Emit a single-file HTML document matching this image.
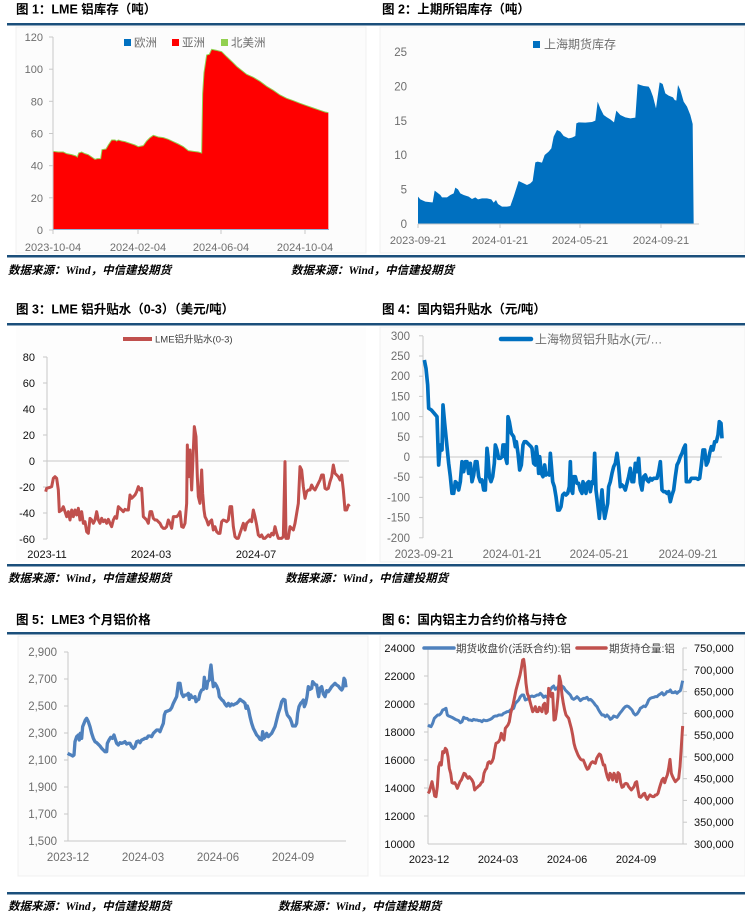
<!DOCTYPE html>
<html><head><meta charset="utf-8"><style>
html,body{margin:0;padding:0;background:#fff;}
body{width:745px;height:922px;overflow:hidden;}
svg{display:block;}
.t{font-family:"Liberation Sans","Noto Sans CJK SC",sans-serif;font-weight:bold;font-size:12.5px;fill:#000;}
.s{font-family:"Liberation Serif","Noto Sans CJK SC",serif;font-weight:bold;font-style:italic;font-size:11.5px;fill:#000;}
.g{font-family:"Liberation Sans","Noto Sans CJK SC",sans-serif;font-size:11px;fill:#6e6e6e;}
.k{font-family:"Liberation Sans","Noto Sans CJK SC",sans-serif;font-size:11px;fill:#111;}
.ax{stroke:#c8c8c8;stroke-width:1;fill:none;}
</style></head><body>
<svg width="745" height="922" viewBox="0 0 745 922" xmlns="http://www.w3.org/2000/svg">
<rect x="0" y="0" width="745" height="922" fill="#fff"/>
<!-- chart area backgrounds -->
<rect x="16" y="27" width="350" height="226" fill="#fcfcfc" stroke="#f0f0f0"/>
<rect x="380" y="27" width="365" height="226" fill="#fcfcfc" stroke="#f0f0f0"/>
<rect x="16" y="327" width="350" height="235" fill="#fdfdfd"/>
<rect x="380" y="327" width="365" height="235" fill="#fcfcfc" stroke="#f0f0f0"/>
<rect x="18" y="636" width="350" height="240" fill="#fcfcfc" stroke="#f0f0f0"/>
<rect x="380" y="636" width="365" height="240" fill="#fcfcfc" stroke="#f0f0f0"/>

<!-- rules -->
<rect x="7" y="23" width="738" height="2.5" fill="#1b4f7b"/>
<rect x="7" y="255" width="738" height="2.5" fill="#1b4f7b"/>
<rect x="7" y="323" width="738" height="2.5" fill="#1b4f7b"/>
<rect x="7" y="564" width="738" height="2.5" fill="#1b4f7b"/>
<rect x="7" y="632" width="738" height="2.5" fill="#1b4f7b"/>
<rect x="7" y="892" width="738" height="2.5" fill="#1b4f7b"/>

<!-- titles -->
<text class="t" x="16" y="13.5">图 1：LME 铝库存（吨）</text>
<text class="t" x="382" y="13.5">图 2：上期所铝库存（吨）</text>
<text class="t" x="16" y="313.5">图 3：LME 铝升贴水（0-3）（美元/吨）</text>
<text class="t" x="382" y="313.5">图 4：国内铝升贴水（元/吨）</text>
<text class="t" x="16" y="624">图 5：LME3 个月铝价格</text>
<text class="t" x="382" y="624">图 6：国内铝主力合约价格与持仓</text>

<!-- sources -->
<text class="s" x="8" y="274">数据来源：Wind，中信建投期货</text>
<text class="s" x="291" y="274">数据来源：Wind，中信建投期货</text>
<text class="s" x="8" y="582">数据来源：Wind，中信建投期货</text>
<text class="s" x="285" y="582">数据来源：Wind，中信建投期货</text>
<text class="s" x="8" y="910">数据来源：Wind，中信建投期货</text>
<text class="s" x="278" y="910">数据来源：Wind，中信建投期货</text>

<!-- ============ CHART 1 ============ -->
<g transform="scale(0.33333)">
<polygon fill="#ff0000" points="160,690 160,454 175,456 190,456 200,461 215,464 228,468 232,471 236,459 245,456 255,461 265,464 275,471 285,478 292,476 302,476 306,449 318,447 325,435 335,420 345,420 350,423 355,420 365,423 375,425 390,430 405,435 415,440 430,437 440,423 450,413 460,406 475,411 490,413 505,418 520,425 535,432 550,440 565,452 580,454 595,456 605,459 608,281 612,218 620,165 628,163 635,148 650,151 665,155 680,170 695,184 710,199 725,211 740,223 760,232 780,244 800,259 820,271 840,285 860,295 880,302 900,310 920,317 940,324 960,331 975,336 985,338 985,690"/>
<polyline fill="none" stroke="#92d050" stroke-width="3" points="160,454 175,456 190,456 200,461 215,464 228,468 232,471 236,459 245,456 255,461 265,464 275,471 285,478 292,476 302,476 306,449 318,447 325,435 335,420 345,420 350,423 355,420 365,423 375,425 390,430 405,435 415,440 430,437 440,423 450,413 460,406 475,411 490,413 505,418 520,425 535,432 550,440 565,452 580,454 595,456 605,459 608,281 612,218 620,165 628,163 635,148 650,151 665,155 680,170 695,184 710,199 725,211 740,223 760,232 780,244 800,259 820,271 840,285 860,295 880,302 900,310 920,317 940,324 960,331 975,336 985,338"/>
</g>
<line class="ax" x1="53" y1="37" x2="53" y2="230"/>
<line x1="53" y1="229.5" x2="329" y2="229.5" stroke="#8fb4d9" stroke-width="1"/>
<g class="ax">
<line x1="49" y1="37" x2="53" y2="37"/><line x1="49" y1="69.2" x2="53" y2="69.2"/><line x1="49" y1="101.3" x2="53" y2="101.3"/><line x1="49" y1="133.5" x2="53" y2="133.5"/><line x1="49" y1="165.7" x2="53" y2="165.7"/><line x1="49" y1="197.8" x2="53" y2="197.8"/><line x1="49" y1="230" x2="53" y2="230"/>
<line x1="53" y1="230" x2="53" y2="234"/><line x1="138" y1="230" x2="138" y2="234"/><line x1="221" y1="230" x2="221" y2="234"/><line x1="305" y1="230" x2="305" y2="234"/>
</g>
<g class="g" text-anchor="end">
<text x="43" y="41">120</text><text x="43" y="73.2">100</text><text x="43" y="105.3">80</text><text x="43" y="137.5">60</text><text x="43" y="169.7">40</text><text x="43" y="201.8">20</text><text x="43" y="234">0</text>
</g>
<g class="g" text-anchor="middle">
<text x="53" y="251">2023-10-04</text><text x="138" y="251">2024-02-04</text><text x="221" y="251">2024-06-04</text><text x="305" y="251">2024-10-04</text>
</g>
<rect x="124" y="39" width="7" height="7" fill="#0070c0"/>
<text class="g" x="134" y="46.5" style="font-size:11.5px">欧洲</text>
<rect x="172" y="39" width="7" height="7" fill="#ff0000"/>
<text class="g" x="182" y="46.5" style="font-size:11.5px">亚洲</text>
<rect x="221" y="39" width="7" height="7" fill="#92d050"/>
<text class="g" x="231" y="46.5" style="font-size:11.5px">北美洲</text>

<!-- ============ CHART 2 ============ -->
<g transform="translate(372,0) scale(0.33333)">
<polygon fill="#0070c0" points="138,672 138,590 145,598 160,605 180,607 182,607 188,572 195,577 205,585 210,592 225,592 235,585 245,580 250,563 258,568 265,580 275,585 290,590 300,597 310,592 318,598 330,595 345,595 358,598 365,608 372,600 378,612 390,620 405,620 415,618 425,590 440,543 455,550 465,555 475,550 482,543 490,487 497,485 510,488 518,465 530,455 538,445 545,410 555,390 565,395 575,408 590,415 600,413 610,408 613,370 620,367 640,368 660,366 670,362 677,305 685,325 695,345 705,352 715,358 726,367 733,332 745,345 760,352 775,355 790,353 797,252 805,255 815,258 830,260 835,268 843,290 852,325 863,247 872,252 880,280 890,287 903,292 908,300 913,302 918,255 925,270 935,305 945,320 955,345 962,372 965,672"/>
</g>
<g class="ax">
<line x1="418" y1="224" x2="699" y2="224"/>
<line x1="418" y1="224" x2="418" y2="228"/><line x1="500" y1="224" x2="500" y2="228"/><line x1="580" y1="224" x2="580" y2="228"/><line x1="661" y1="224" x2="661" y2="228"/>
</g>
<g class="g" text-anchor="end" style="font-size:11.5px">
<text x="407" y="56">25</text><text x="407" y="90.4">20</text><text x="407" y="124.8">15</text><text x="407" y="159.2">10</text><text x="407" y="193.6">5</text><text x="407" y="228">0</text>
</g>
<g class="g" text-anchor="middle">
<text x="418" y="244">2023-09-21</text><text x="500" y="244">2024-01-21</text><text x="580" y="244">2024-05-21</text><text x="661" y="244">2024-09-21</text>
</g>
<rect x="533" y="41" width="7" height="7" fill="#0070c0"/>
<text class="g" x="544" y="48.5" style="font-size:12px">上海期货库存</text>

<!-- ============ CHART 3 ============ -->
<line class="ax" x1="47" y1="357" x2="47" y2="539"/>
<line class="ax" x1="47" y1="461" x2="349" y2="461"/>
<g class="ax">
<line x1="43" y1="357" x2="47" y2="357"/><line x1="43" y1="383" x2="47" y2="383"/><line x1="43" y1="409" x2="47" y2="409"/><line x1="43" y1="435" x2="47" y2="435"/><line x1="43" y1="461" x2="47" y2="461"/><line x1="43" y1="487" x2="47" y2="487"/><line x1="43" y1="513" x2="47" y2="513"/><line x1="43" y1="539" x2="47" y2="539"/>
</g>
<g transform="translate(0,290) scale(0.33333)">
<polyline fill="none" stroke="#c0504d" stroke-width="9" stroke-linejoin="round" points="137,605 140,595 150,592 155,590 160,565 165,560 170,565 175,600 178,665 185,660 190,650 195,665 200,680 205,665 210,690 215,660 220,680 225,660 230,675 235,655 240,690 245,665 250,700 255,695 260,725 265,730 270,685 275,690 280,700 285,690 290,665 295,690 300,700 305,685 310,695 315,690 320,700 325,688 330,700 335,710 340,690 345,680 350,685 355,650 360,655 365,660 370,665 375,658 380,660 385,660 390,615 395,625 400,620 405,615 410,605 415,590 420,600 425,595 430,680 435,685 440,690 445,700 450,665 455,665 460,685 465,690 470,690 475,695 480,700 485,710 490,715 495,715 500,710 505,690 510,700 515,715 520,680 525,680 530,680 535,675 540,665 545,710 550,712 555,700 560,640 562,465 566,560 570,480 575,600 580,480 583,410 588,440 592,560 595,620 600,640 605,540 608,610 612,660 615,680 620,690 625,705 630,695 635,690 640,720 645,710 650,725 655,730 660,730 665,695 670,690 675,692 680,695 685,690 690,650 695,650 700,710 705,740 710,745 715,745 720,730 725,715 730,700 735,720 740,700 745,695 750,690 755,695 760,660 765,680 770,705 775,735 780,740 785,735 790,745 795,745 800,740 805,735 810,740 815,730 820,735 825,710 830,730 835,745 840,745 845,745 850,740 855,515 858,745 862,745 865,745 870,710 875,715 880,720 885,700 890,670 895,640 900,530 905,540 910,590 915,625 920,605 925,600 930,600 935,585 940,595 945,600 950,590 955,580 960,570 965,555 970,555 975,595 980,598 985,595 990,575 995,560 1000,525 1005,550 1010,555 1015,560 1020,570 1025,555 1030,600 1035,660 1040,660 1045,645 1048,650"/>
</g>
<g class="k" text-anchor="end">
<text x="35" y="361">80</text><text x="35" y="387">60</text><text x="35" y="413">40</text><text x="35" y="439">20</text><text x="35" y="465">0</text><text x="35" y="491">-20</text><text x="35" y="517">-40</text><text x="35" y="543">-60</text>
</g>
<g class="k" text-anchor="middle">
<text x="47" y="558">2023-11</text><text x="151" y="558">2024-03</text><text x="256" y="558">2024-07</text>
</g>
<line x1="123" y1="339" x2="152" y2="339" stroke="#c0504d" stroke-width="4"/>
<text x="155" y="342.5" style="font-family:'Liberation Sans','Noto Sans CJK SC',sans-serif;font-size:9.5px;fill:#404040">LME铝升贴水(0-3)</text>

<!-- ============ CHART 4 ============ -->
<line class="ax" x1="423" y1="336" x2="423" y2="538"/>
<line class="ax" x1="423" y1="457" x2="722" y2="457"/>
<g class="ax">
<line x1="419" y1="335.8" x2="423" y2="335.8"/><line x1="419" y1="356" x2="423" y2="356"/><line x1="419" y1="376.2" x2="423" y2="376.2"/><line x1="419" y1="396.4" x2="423" y2="396.4"/><line x1="419" y1="416.6" x2="423" y2="416.6"/><line x1="419" y1="436.8" x2="423" y2="436.8"/><line x1="419" y1="457" x2="423" y2="457"/><line x1="419" y1="477.2" x2="423" y2="477.2"/><line x1="419" y1="497.4" x2="423" y2="497.4"/><line x1="419" y1="517.6" x2="423" y2="517.6"/><line x1="419" y1="537.8" x2="423" y2="537.8"/>
</g>
<g transform="translate(372,290) scale(0.33333)">
<polyline fill="none" stroke="#0070c0" stroke-width="11" stroke-linejoin="round" points="157,210 162,235 167,285 170,355 178,360 185,368 195,380 198,470 200,525 205,465 210,480 213,345 218,400 225,470 230,520 235,560 240,610 245,610 250,575 255,580 260,600 265,575 270,515 275,545 280,515 285,515 290,550 295,520 300,575 305,555 310,515 315,515 320,560 325,575 330,570 335,600 340,600 345,475 348,500 352,560 357,575 362,560 367,520 370,465 375,480 380,505 385,505 390,500 393,465 398,465 400,500 405,520 408,380 412,395 418,430 425,440 430,470 433,455 438,490 443,540 448,525 453,465 457,455 462,455 467,460 472,465 477,470 480,475 485,520 490,525 493,470 497,505 500,550 503,500 508,550 513,560 518,525 522,555 528,550 532,555 535,490 538,525 542,575 547,590 552,620 557,660 562,660 567,650 572,615 577,610 582,615 587,610 592,590 595,515 598,600 602,610 605,560 610,560 615,580 620,580 625,600 630,610 633,575 638,595 642,610 645,580 650,575 655,605 660,575 664,580 668,490 672,600 677,640 682,685 686,640 690,600 694,650 698,685 703,660 707,640 710,590 715,575 720,550 725,530 730,520 735,490 740,530 745,590 750,585 755,590 760,600 765,580 770,560 775,535 780,575 785,575 790,520 795,545 800,505 805,580 810,600 815,560 820,555 825,570 830,575 835,565 840,570 845,565 850,565 855,565 860,545 865,515 870,600 875,605 880,605 885,610 890,605 895,635 900,615 905,600 910,560 915,525 920,515 925,500 930,490 935,475 940,465 943,575 948,575 953,575 958,565 963,565 968,565 973,565 978,568 983,565 988,525 993,480 998,480 1003,525 1008,515 1013,490 1018,470 1023,480 1028,455 1033,455 1038,435 1042,395 1047,400 1050,445"/>
</g>
<g class="g" text-anchor="end" style="font-size:11.5px">
<text x="410" y="340">300</text><text x="410" y="360">250</text><text x="410" y="380.2">200</text><text x="410" y="400.4">150</text><text x="410" y="420.6">100</text><text x="410" y="440.8">50</text><text x="410" y="461">0</text><text x="410" y="481.2">-50</text><text x="410" y="501.4">-100</text><text x="410" y="521.6">-150</text><text x="410" y="541.8">-200</text>
</g>
<g class="g" text-anchor="middle" style="font-size:11.5px">
<text x="424" y="558">2023-09-21</text><text x="512" y="558">2024-01-21</text><text x="599" y="558">2024-05-21</text><text x="688" y="558">2024-09-21</text>
</g>
<line x1="501" y1="339" x2="531" y2="339" stroke="#0070c0" stroke-width="4.5" stroke-linecap="round"/>
<text class="g" x="535" y="343.5" style="font-size:12px">上海物贸铝升贴水(元/…</text>

<!-- ============ CHART 5 ============ -->
<line class="ax" x1="68" y1="652" x2="68" y2="841"/>
<line class="ax" x1="68" y1="841" x2="346" y2="841"/>
<g class="ax">
<line x1="64" y1="652" x2="68" y2="652"/><line x1="64" y1="679" x2="68" y2="679"/><line x1="64" y1="706" x2="68" y2="706"/><line x1="64" y1="733" x2="68" y2="733"/><line x1="64" y1="760" x2="68" y2="760"/><line x1="64" y1="787" x2="68" y2="787"/><line x1="64" y1="814" x2="68" y2="814"/><line x1="64" y1="841" x2="68" y2="841"/>
</g>
<g transform="translate(0,600) scale(0.33333)">
<polyline fill="none" stroke="#4f81bd" stroke-width="10" stroke-linejoin="round" points="203,460 208,463 213,465 218,468 222,465 225,425 230,410 235,405 238,420 241,400 245,415 248,380 252,370 256,360 260,355 265,365 270,380 275,400 280,415 285,425 290,428 295,433 300,438 305,445 310,450 315,455 320,455 322,430 327,420 332,412 337,415 342,405 346,418 350,430 355,435 360,428 365,430 370,428 375,425 380,432 385,430 390,430 395,440 400,445 405,440 410,425 415,423 420,428 425,420 430,418 435,415 440,415 445,408 450,408 455,410 460,400 465,395 470,390 475,390 480,395 485,382 490,370 493,345 497,335 503,333 510,330 515,323 520,310 525,300 530,290 535,250 540,250 545,280 550,290 555,285 560,285 565,280 568,298 572,285 576,292 580,293 585,290 588,305 592,300 596,298 600,280 605,270 610,268 613,232 617,260 620,265 623,245 628,240 630,215 633,195 637,235 640,260 645,250 650,258 655,270 658,290 662,295 666,300 670,303 675,312 680,318 685,310 690,318 695,312 700,315 705,312 710,310 715,305 720,298 725,302 730,305 735,310 738,325 742,318 746,330 750,350 755,370 760,385 765,395 770,405 775,410 780,418 785,420 788,395 792,415 796,410 800,400 805,410 810,405 815,400 820,390 825,380 830,360 835,340 840,325 845,305 850,298 855,300 858,330 862,345 866,350 870,355 874,365 878,378 882,378 886,378 890,370 893,340 897,320 902,310 907,305 910,300 913,320 917,310 921,290 925,260 930,268 935,265 938,245 942,250 947,255 950,255 954,280 956,290 960,265 965,260 970,282 975,290 980,272 985,275 990,268 995,260 1000,255 1005,250 1010,255 1015,258 1020,265 1025,270 1028,265 1032,235 1035,240 1038,262"/>
</g>
<g class="g" text-anchor="end" style="font-size:11.5px">
<text x="57" y="656">2,900</text><text x="57" y="683">2,700</text><text x="57" y="710">2,500</text><text x="57" y="737">2,300</text><text x="57" y="764">2,100</text><text x="57" y="791">1,900</text><text x="57" y="818">1,700</text><text x="57" y="845">1,500</text>
</g>
<g class="g" text-anchor="middle" style="font-size:11.5px">
<text x="68" y="861">2023-12</text><text x="143" y="861">2024-03</text><text x="218" y="861">2024-06</text><text x="293" y="861">2024-09</text>
</g>

<!-- ============ CHART 6 ============ -->
<line class="ax" x1="428" y1="648" x2="428" y2="844"/>
<line class="ax" x1="683" y1="648" x2="683" y2="844"/>
<line class="ax" x1="428" y1="844" x2="683" y2="844"/>
<g class="ax">
<line x1="424" y1="648" x2="428" y2="648"/><line x1="424" y1="676" x2="428" y2="676"/><line x1="424" y1="704" x2="428" y2="704"/><line x1="424" y1="732" x2="428" y2="732"/><line x1="424" y1="760" x2="428" y2="760"/><line x1="424" y1="788" x2="428" y2="788"/><line x1="424" y1="816" x2="428" y2="816"/>
<line x1="683" y1="648" x2="687" y2="648"/><line x1="683" y1="669.8" x2="687" y2="669.8"/><line x1="683" y1="691.6" x2="687" y2="691.6"/><line x1="683" y1="713.3" x2="687" y2="713.3"/><line x1="683" y1="735.1" x2="687" y2="735.1"/><line x1="683" y1="756.9" x2="687" y2="756.9"/><line x1="683" y1="778.7" x2="687" y2="778.7"/><line x1="683" y1="800.4" x2="687" y2="800.4"/><line x1="683" y1="822.2" x2="687" y2="822.2"/><line x1="683" y1="844" x2="687" y2="844"/>
</g>
<g transform="translate(372,600) scale(0.33333)">
<polyline fill="none" stroke="#4f81bd" stroke-width="9" stroke-linejoin="round" points="168,375 172,378 177,380 182,370 187,355 192,350 197,345 202,345 207,340 212,330 217,328 222,325 226,345 230,348 235,350 240,352 245,355 250,358 255,360 260,362 265,368 270,365 275,352 280,355 285,355 290,360 295,360 300,362 305,358 310,360 315,360 320,362 325,362 330,365 335,360 340,362 345,362 350,360 355,358 360,355 365,350 370,348 375,348 380,345 385,345 390,345 395,340 400,338 405,335 410,335 415,330 420,328 425,325 430,310 435,305 440,300 445,290 450,285 455,285 460,300 465,298 470,295 475,290 480,288 485,290 490,288 495,285 500,285 505,280 510,285 515,292 520,288 525,292 530,285 535,270 540,262 545,258 550,268 555,265 560,258 565,255 570,258 575,262 580,270 585,275 590,280 595,285 600,295 605,298 610,295 615,290 620,295 625,302 630,298 635,295 640,295 645,292 650,300 655,298 660,302 665,308 670,315 675,320 680,330 685,338 690,345 695,345 700,350 705,345 710,350 715,358 720,355 725,348 730,350 735,352 740,345 745,338 750,332 755,325 760,320 765,318 770,320 775,325 780,330 785,340 790,345 795,342 800,335 805,325 810,322 815,318 820,320 825,312 830,300 835,295 840,293 845,292 850,290 855,290 860,285 865,282 870,278 875,285 880,282 885,275 890,275 895,270 900,278 905,278 910,275 915,280 920,275 925,272 928,260 932,242"/>
<polyline fill="none" stroke="#c0504d" stroke-width="9" stroke-linejoin="round" points="168,580 172,575 176,560 180,545 184,565 188,588 192,590 196,560 200,500 204,488 208,495 212,455 216,458 220,445 224,450 228,470 232,505 236,520 240,548 244,550 248,548 252,555 256,565 260,555 264,545 268,540 272,530 276,520 280,522 284,530 288,535 292,530 296,535 300,540 304,548 308,570 312,565 316,562 320,558 324,555 328,548 332,545 336,520 340,510 344,505 348,488 352,485 356,490 360,485 364,475 368,450 372,430 376,428 380,425 384,418 388,400 392,410 396,420 400,385 404,380 408,375 412,365 416,340 420,325 424,310 428,290 432,270 436,255 440,240 444,225 448,205 452,180 455,178 458,200 462,250 466,280 470,290 474,305 478,320 482,335 486,330 490,320 494,335 498,335 502,322 506,330 510,335 514,315 518,310 522,340 526,335 530,265 534,275 538,290 542,280 546,360 550,358 554,330 558,290 562,228 566,245 570,285 574,310 578,330 582,345 586,350 590,355 594,370 598,385 602,405 606,430 610,445 614,455 618,465 622,472 626,478 630,480 634,480 638,490 642,500 646,508 650,505 654,495 658,488 662,485 666,488 670,490 674,475 678,468 682,462 686,465 690,480 694,495 698,495 702,515 706,530 710,540 714,520 718,525 722,540 726,520 730,528 734,545 738,518 742,522 746,548 750,562 754,560 758,552 762,550 766,552 770,560 774,565 778,570 782,565 786,560 790,548 794,545 798,570 802,590 806,592 810,588 814,582 818,580 822,592 826,598 830,590 834,585 838,588 842,590 846,590 850,585 854,585 858,580 862,565 866,552 870,540 874,535 878,548 882,535 886,525 890,505 894,478 898,520 902,530 906,538 910,545 915,540 920,535 924,500 928,440 932,378"/>
</g>
<g class="k" text-anchor="end">
<text x="415" y="652">24000</text><text x="415" y="680">22000</text><text x="415" y="708">20000</text><text x="415" y="736">18000</text><text x="415" y="764">16000</text><text x="415" y="792">14000</text><text x="415" y="820">12000</text><text x="415" y="848">10000</text>
</g>
<g class="k" text-anchor="start">
<text x="694" y="652">750,000</text><text x="694" y="673.8">700,000</text><text x="694" y="695.6">650,000</text><text x="694" y="717.3">600,000</text><text x="694" y="739.1">550,000</text><text x="694" y="760.9">500,000</text><text x="694" y="782.7">450,000</text><text x="694" y="804.4">400,000</text><text x="694" y="826.2">350,000</text><text x="694" y="848">300,000</text>
</g>
<g class="k" text-anchor="middle">
<text x="429" y="863">2023-12</text><text x="498" y="863">2024-03</text><text x="567" y="863">2024-06</text><text x="636" y="863">2024-09</text>
</g>
<line x1="424" y1="648" x2="454" y2="648" stroke="#4f81bd" stroke-width="3.5" stroke-linecap="round"/>
<text x="456" y="652" style="font-family:'Liberation Sans','Noto Sans CJK SC',sans-serif;font-size:10.5px;fill:#404040">期货收盘价(活跃合约):铝</text>
<line x1="577" y1="648" x2="606" y2="648" stroke="#c0504d" stroke-width="3.5" stroke-linecap="round"/>
<text x="609" y="652" style="font-family:'Liberation Sans','Noto Sans CJK SC',sans-serif;font-size:10.5px;fill:#404040">期货持仓量:铝</text>
</svg>
</body></html>
